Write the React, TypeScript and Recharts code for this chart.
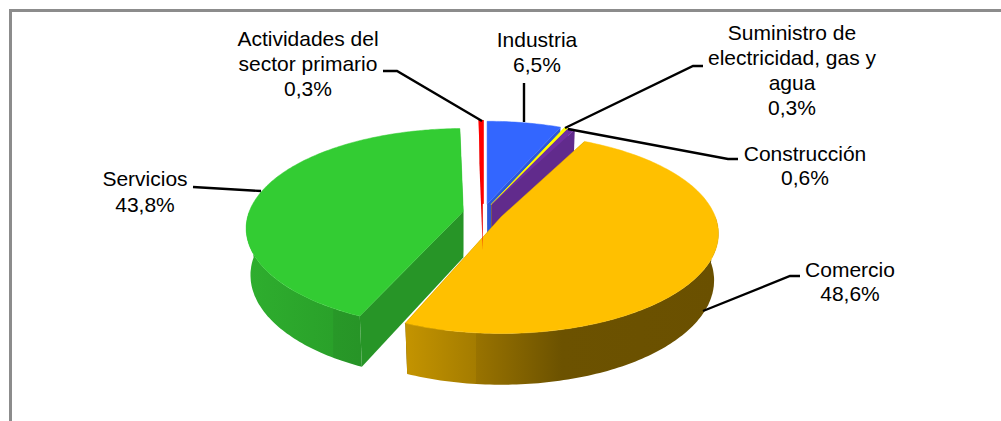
import { PieChart, Pie } from 'recharts';

const categories = [
  'Industria',
  'Suministro de\nelectricidad, gas y\nagua',
  'Construcción',
  'Comercio',
  'Servicios',
  'Actividades del\nsector primario',
];
const shares = [6.5, 0.3, 0.6, 48.6, 43.8, 0.3];

const topColors = ['#3366FF', '#FFFF00', '#7030A0', '#FFC000', '#33CC33', '#FF0000'];
const faceColors = ['#2C58D8', '#B0B000', '#612B8C', '#6B5100', '#279527', '#E80000'];
const edgeWidths = [0.5, 1, 0.5, 0.5, 0.5, 2];
const rimSlide = [0, 0, 0, 1.2, 4, 0];
const wallStops = [
  [[0, '#2A55D0'], [1, '#2A55D0']],
  [[0, '#B0B000'], [1, '#B0B000']],
  [[0, '#612B8C'], [1, '#612B8C']],
  [[0, '#C49400'], [0.225, '#A47C00'], [0.226, '#997300'], [0.5, '#6C5200'], [1, '#6A5000']],
  [[0, '#2EAE2E'], [0.75, '#2AA12A'], [0.755, '#289828'], [1, '#279427']],
  [[0, '#E80000'], [1, '#E80000']],
];

// label centre x, first line centre y, line step, leader polyline
const labelBoxes = [
  { x: 537, y: 40, step: 25, leader: '524,83 524,122' },
  { x: 792, y: 33, step: 25, leader: '703,66 693,66 565,128' },
  { x: 805, y: 154, step: 24, leader: '738,159 728,159 568,129' },
  { x: 850, y: 270, step: 24, leader: '800,276 790,276 703,311' },
  { x: 145, y: 179, step: 26, leader: '193,187 261,191' },
  { x: 308, y: 39, step: 25, leader: '383,71 397,71 482,121' },
];

const chartData = categories.map((name, i) => ({ name, value: shares[i] }));

const SQUASH = 0.453;
const PERSPECTIVE = 0.17;
const EXPLODE = 20;
const DEPTH = 46;

const rad = (d: number) => (d * Math.PI) / 180;

// unit disc -> screen, one projective map for the top face and one for the base
const project = (ax: number, ay: number, R: number, angle: number, base: boolean, slide: number) => {
  // the near-left quarter slides a little along the rim, as it does in the picture
  const theta = angle > 180 && angle < 270 ? angle + slide * Math.sin(rad(2 * angle)) : angle;
  const u = Math.sin(rad(theta));
  const v = -Math.cos(rad(theta));
  const w = 1 - PERSPECTIVE * v;
  const K = R * SQUASH;
  if (base) return [ax + (R * 0.98 * u) / w, ay + DEPTH + (K * 1.045 * v) / w];
  return [ax + (R * u) / w, ay + (K * v) / w];
};

const pts = (list: number[][]) => list.map((p) => `${p[0].toFixed(1)},${p[1].toFixed(1)}`).join(' ');

const arc = (ax: number, ay: number, R: number, from: number, to: number, base: boolean, slide: number) => {
  const out: number[][] = [];
  const n = Math.max(2, Math.ceil(Math.abs(to - from)));
  for (let i = 0; i <= n; i++) out.push(project(ax, ay, R, from + ((to - from) * i) / n, base, slide));
  return out;
};

const renderSlice = (props: any) => {
  const { cx, cy, outerRadius, startAngle, endAngle, index } = props;
  const t0 = 90 - startAngle;
  const t1 = 90 - endAngle;
  const mid = (t0 + t1) / 2;
  const ax = cx + EXPLODE * Math.sin(rad(mid));
  const ay = cy - EXPLODE * SQUASH * Math.cos(rad(mid));
  const apexBase = [ax, ay + DEPTH];
  const gradId = `wall-${index}`;
  const slide = rimSlide[index];

  const w0 = Math.max(t0, 90);
  const w1 = Math.min(t1, 270);
  const hasWall = w1 > w0;

  return (
    <g>
      <defs>
        <linearGradient id={gradId} x1="0" y1="0" x2="1" y2="0">
          {wallStops[index].map((s, i) => (
            <stop key={i} offset={s[0] as number} stopColor={s[1] as string} />
          ))}
        </linearGradient>
      </defs>
      <polygon
        points={pts([[ax, ay], project(ax, ay, outerRadius, t0, false, slide), project(ax, ay, outerRadius, t0, true, slide), apexBase])}
        fill={faceColors[index]}
      />
      <polygon
        points={pts([[ax, ay], project(ax, ay, outerRadius, t1, false, slide), project(ax, ay, outerRadius, t1, true, slide), apexBase])}
        fill={faceColors[index]}
      />
      {hasWall && (
        <polygon
          points={pts([...arc(ax, ay, outerRadius, w0, w1, false, slide), ...arc(ax, ay, outerRadius, w1, w0, true, slide)])}
          fill={`url(#${gradId})`}
        />
      )}
      <polygon
        points={pts([[ax, ay], ...arc(ax, ay, outerRadius, t0, t1, false, slide)])}
        fill={topColors[index]}
        stroke={topColors[index]}
        strokeWidth={edgeWidths[index]}
      />
    </g>
  );
};

const renderLabel = (props: any) => {
  const { index, name, value } = props;
  const box = labelBoxes[index];
  const lines = [...String(name).split('\n'), `${Number(value).toFixed(1).replace('.', ',')}%`];
  return (
    <g key={index}>
      <polyline points={box.leader} fill="none" stroke="#000" strokeWidth={2.4} />
      <text textAnchor="middle" fontFamily="Liberation Sans" fontSize={21} fill="#000">
        {lines.map((line, i) => (
          <tspan key={i} x={box.x} y={box.y + 7 + i * box.step}>
            {line}
          </tspan>
        ))}
      </text>
    </g>
  );
};

export default function App() {
  return (
    <div style={{ position: 'absolute', left: 0, top: 0, width: 1001, height: 421, background: '#fff', overflow: 'hidden' }}>
      <div
        style={{
          position: 'absolute',
          left: 9,
          top: 9,
          width: 992,
          height: 412,
          borderTop: '3px solid #8C8C8C',
          borderLeft: '3px solid #8C8C8C',
          boxSizing: 'border-box',
        }}
      />
      <div style={{ position: 'absolute', left: 0, top: 0 }}>
        <PieChart width={1001} height={421} margin={{ top: 0, right: 0, bottom: 0, left: 0 }}>
          <Pie
            data={chartData}
            dataKey="value"
            nameKey="name"
            cx={483}
            cy={213}
            innerRadius={0}
            outerRadius={214}
            startAngle={90}
            endAngle={-270}
            stroke="none"
            shape={renderSlice}
            label={renderLabel}
            labelLine={false}
            isAnimationActive={false}
          />
        </PieChart>
      </div>
    </div>
  );
}
